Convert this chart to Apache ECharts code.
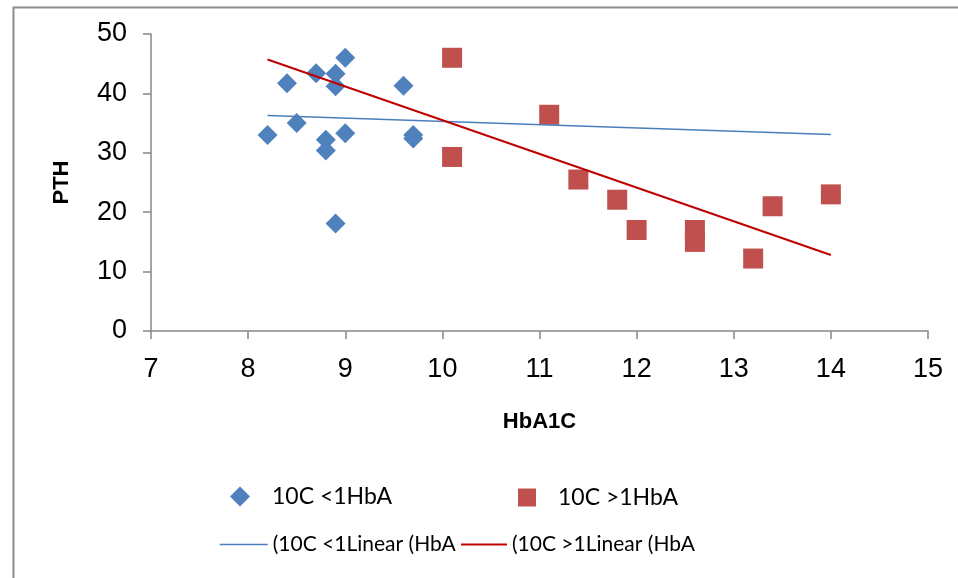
<!DOCTYPE html>
<html>
<head>
<meta charset="utf-8">
<script src="https://cdn.jsdelivr.net/npm/echarts@6/dist/echarts.min.js"></script>
<style>html,body{margin:0;padding:0;background:#fff;}#c{width:958px;height:578px;}</style>
</head>
<body>
<div id="c"></div>
<script>
// Data
var lowName = '10C <1HbA';
var highName = '10C >1HbA';
var lowTrendName = '(10C <1Linear (HbA';
var highTrendName = '(10C >1Linear (HbA';

var lowX = [8.2, 8.4, 8.5, 8.7, 8.9, 8.9, 9.0, 8.8, 8.8, 9.0, 8.9, 9.6, 9.7, 9.7];
var lowY = [33.0, 41.7, 35.0, 43.4, 43.3, 41.2, 46.0, 32.2, 30.4, 33.3, 18.1, 41.3, 33.0, 32.4];

var highX = [10.1, 10.1, 11.1, 11.4, 11.8, 12.0, 12.6, 12.6, 13.2, 13.4, 14.0];
var highY = [46.0, 29.3, 36.4, 25.5, 22.1, 17.0, 17.0, 15.0, 12.2, 21.0, 23.0];

var trendX = [8.2, 14.0];
var lowTrendY = [36.3, 33.1];
var highTrendY = [45.7, 12.8];

var xTicks = [7, 8, 9, 10, 11, 12, 13, 14, 15];
var yTicks = [0, 10, 20, 30, 40, 50];

function pairs(xs, ys) { return xs.map(function (x, i) { return [x, ys[i]]; }); }

var axisColor = '#868686';
var chart = echarts.init(document.getElementById('c'), null, { renderer: 'canvas' });

function legendItem(name, left, top, w, h, pad, fs, extra) {
  var l = {
    data: [name], left: left, top: top, orient: 'horizontal',
    itemWidth: w, itemHeight: h, padding: 0, selectedMode: false,
    textStyle: { fontFamily: 'Lato', fontSize: fs, color: '#000', padding: [0, 0, 0, pad] }
  };
  if (extra) { for (var k in extra) l[k] = extra[k]; }
  return l;
}

chart.setOption({
  animation: false,
  backgroundColor: '#fff',
  graphic: [{
    type: 'rect', left: 11, top: 5, silent: true,
    shape: { width: 2000, height: 2000 },
    style: { fill: 'none', stroke: '#8c8c8c', lineWidth: 2 }
  }],
  grid: { left: 151, right: 30, top: 34, bottom: 247, containLabel: false },
  xAxis: {
    type: 'value', min: xTicks[0], max: xTicks[xTicks.length - 1], interval: 1,
    name: 'HbA1C', nameLocation: 'middle', nameGap: 80,
    nameTextStyle: { fontFamily: 'Liberation Sans', fontWeight: 'bold', fontSize: 22, color: '#000' },
    axisLine: { lineStyle: { color: axisColor, width: 1.5 } },
    axisTick: { show: true, length: 8, inside: false, lineStyle: { color: axisColor, width: 1.5 } },
    axisLabel: { fontFamily: 'Liberation Sans', fontSize: 27, color: '#000', margin: 25 },
    splitLine: { show: false }
  },
  yAxis: {
    type: 'value', min: yTicks[0], max: yTicks[yTicks.length - 1], interval: 10,
    name: 'PTH', nameLocation: 'middle', nameGap: 78, nameRotate: 90,
    nameTextStyle: { fontFamily: 'Liberation Sans', fontWeight: 'bold', fontSize: 22, color: '#000' },
    axisLine: { show: true, lineStyle: { color: axisColor, width: 1.5 } },
    axisTick: { show: true, length: 8, inside: false, lineStyle: { color: axisColor, width: 1.5 } },
    axisLabel: { fontFamily: 'Liberation Sans', fontSize: 27, color: '#000', margin: 24 },
    splitLine: { show: false }
  },
  legend: [
    legendItem(lowName, 230, 485, 20, 20, 17, 23),
    legendItem(highName, 518, 486, 18, 18, 17, 23),
    legendItem(lowTrendName, 219, 534, 48, 20, 0, 21, { itemStyle: { opacity: 0 }, lineStyle: { width: 1.5 } }),
    legendItem(highTrendName, 460, 534, 46, 20, 0, 21, { itemStyle: { opacity: 0 }, lineStyle: { width: 2 } })
  ],
  series: [
    {
      name: lowName, type: 'scatter', symbol: 'diamond', symbolSize: 20,
      itemStyle: { color: '#4F81BD', opacity: 1 }, data: pairs(lowX, lowY), z: 2
    },
    {
      name: highName, type: 'scatter', symbol: 'rect', symbolSize: 20,
      itemStyle: { color: '#C0504D', opacity: 1 }, data: pairs(highX, highY), z: 2
    },
    {
      name: lowTrendName, type: 'line', symbol: 'none', showSymbol: false,
      lineStyle: { color: '#4A7EBB', width: 1.5 }, itemStyle: { color: '#4A7EBB' },
      data: pairs(trendX, lowTrendY), z: 3
    },
    {
      name: highTrendName, type: 'line', symbol: 'none', showSymbol: false,
      lineStyle: { color: '#C00000', width: 2 }, itemStyle: { color: '#C00000' },
      data: pairs(trendX, highTrendY), z: 3
    }
  ]
});
</script>
</body>
</html>
